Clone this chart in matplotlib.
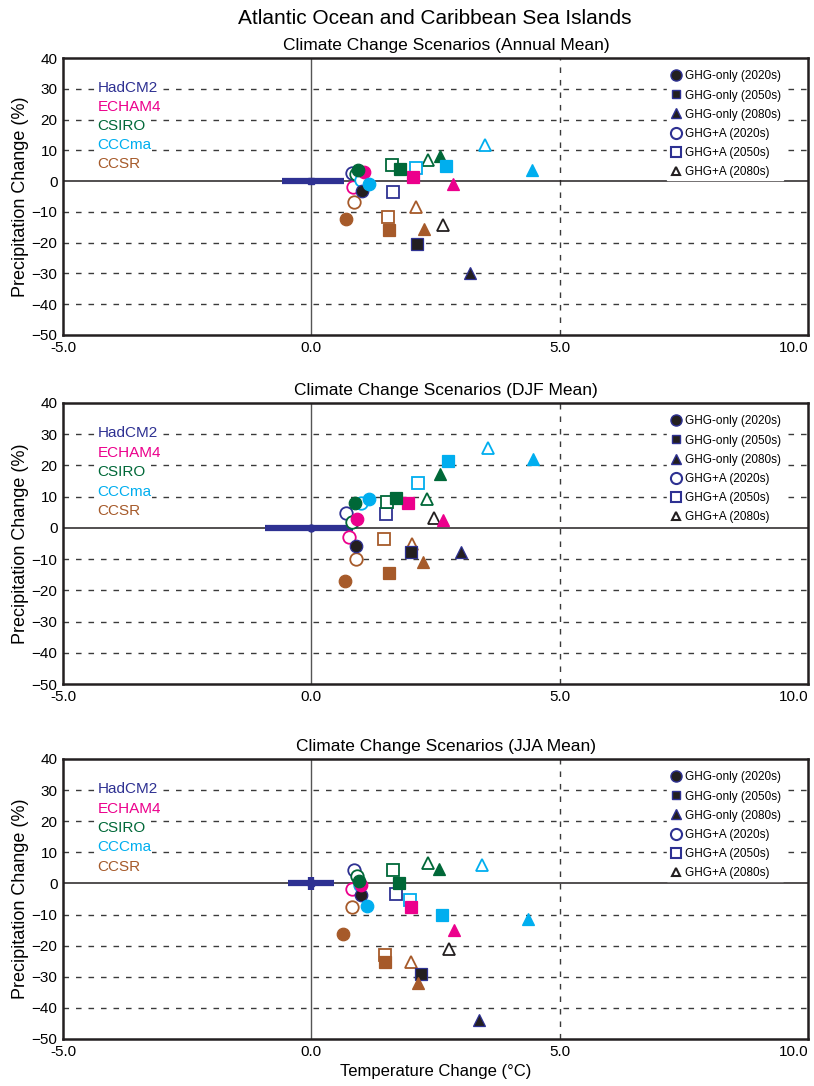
import matplotlib

matplotlib.use("Agg")
import matplotlib.pyplot as plt
import numpy as np
from matplotlib.lines import Line2D

plt.rcParams["font.family"] = ["Liberation Sans", "DejaVu Sans"]

MODELS = ["HadCM2", "ECHAM4", "CSIRO", "CCCma", "CCSR"]
SCENARIOS = ["GHG-only (2020s)", "GHG-only (2050s)", "GHG-only (2080s)",
             "GHG+A (2020s)", "GHG+A (2050s)", "GHG+A (2080s)"]
nan = np.nan

# order of each list: GHG 2020s, 2050s, 2080s, GHG+A 2020s, 2050s, 2080s
ann_temp = {
    "HadCM2": [1.02, 2.12, 3.20, 0.81, 1.64, 2.66],
    "ECHAM4": [1.06, 2.05, 2.86, 0.83, nan, nan],
    "CSIRO": [0.93, 1.78, 2.59, 0.89, 1.63, 2.34],
    "CCCma": [1.17, 2.71, 4.44, 1.00, 2.11, 3.50],
    "CCSR": [0.69, 1.57, 2.26, 0.86, 1.55, 2.10],
}
ann_precip = {
    "HadCM2": [-3.1, -20.5, -30.0, 2.5, -3.6, -14.1],
    "ECHAM4": [2.8, 1.4, -1.0, -1.8, nan, nan],
    "CSIRO": [3.6, 3.9, 8.1, 2.3, 5.1, 6.8],
    "CCCma": [-1.1, 4.8, 3.6, 0.3, 4.4, 11.7],
    "CCSR": [-12.2, -16.0, -15.6, -6.7, -11.6, -8.5],
}
djf_temp = {
    "HadCM2": [0.90, 2.00, 3.02, 0.70, 1.50, 2.47],
    "ECHAM4": [0.91, 1.95, 2.65, 0.75, nan, nan],
    "CSIRO": [0.87, 1.70, 2.60, 0.82, 1.53, 2.33],
    "CCCma": [1.16, 2.75, 4.47, 1.01, 2.15, 3.55],
    "CCSR": [0.68, 1.56, 2.25, 0.89, 1.47, 2.03],
}
djf_precip = {
    "HadCM2": [-5.7, -7.7, -7.7, 4.7, 4.6, 3.3],
    "ECHAM4": [3.0, 8.0, 2.6, -2.9, nan, nan],
    "CSIRO": [8.1, 9.6, 17.1, 1.8, 8.4, 9.2],
    "CCCma": [9.4, 21.3, 22.1, 8.0, 14.3, 25.6],
    "CCSR": [-16.9, -14.6, -11.0, -9.9, -3.4, -5.1],
}
jja_temp = {
    "HadCM2": [1.01, 2.20, 3.38, 0.85, 1.71, 2.78],
    "ECHAM4": [1.01, 2.00, 2.88, 0.82, nan, nan],
    "CSIRO": [0.96, 1.77, 2.57, 0.91, 1.64, 2.35],
    "CCCma": [1.13, 2.63, 4.37, 0.97, 1.99, 3.43],
    "CCSR": [0.63, 1.48, 2.15, 0.82, 1.49, 2.01],
}
jja_precip = {
    "HadCM2": [-3.7, -29.2, -43.9, 4.4, -3.3, -21.0],
    "ECHAM4": [-0.6, -7.6, -15.1, -1.7, nan, nan],
    "CSIRO": [0.9, 0.0, 4.8, 2.5, 4.3, 6.7],
    "CCCma": [-7.1, -10.2, -11.5, -0.4, -5.4, 5.9],
    "CCSR": [-16.2, -25.1, -31.9, -7.6, -23.0, -25.3],
}
# observed natural variability bar (temperature range, precipitation half-range)
obs_temp_err = {"ann": (0.6, 0.66), "djf": (0.93, 0.83), "jja": (0.47, 0.45)}
obs_precip_err = {"ann": 0.0, "djf": 0.0, "jja": 2.2}

COLORS = {"HadCM2": "#2e3192", "ECHAM4": "#ec008c", "CSIRO": "#006838",
          "CCCma": "#00aeef", "CCSR": "#a65a2a"}
MARKERS = ["o", "s", "^", "o", "s", "^"]
SIZES = [9, 8, 9, 9, 8, 8]
GRID = "#3a3a3a"

fig = plt.figure(figsize=(8.14, 10.86), dpi=100)
W, H = 814, 1086
panels = [
    ("ann", "Climate Change Scenarios (Annual Mean)", ann_temp, ann_precip, (58, 335)),
    ("djf", "Climate Change Scenarios (DJF Mean)", djf_temp, djf_precip, (403, 684)),
    ("jja", "Climate Change Scenarios (JJA Mean)", jja_temp, jja_precip, (759, 1039)),
]

fig.text(435 / W, 1 - 18 / H, "Atlantic Ocean and Caribbean Sea Islands",
         ha="center", va="center", fontsize=15)

for i, (key, title, temp, precip, (top, bot)) in enumerate(panels):
    ax = fig.add_axes([63 / W, 1 - bot / H, (808 - 63) / W, (bot - top) / H])
    ax.set_xlim(-5, 10)
    ax.set_ylim(-50, 40)
    ax.set_xticks([-5, 0, 5, 10])
    ax.set_xticklabels(["-5.0", "0.0", "5.0", "10.0"])
    ax.get_xticklabels()[-1].set_ha("right")
    ax.get_xticklabels()[-1].set_x(10.12)
    ax.set_yticks(range(-50, 41, 10))
    ax.tick_params(length=0, labelsize=11, pad=4)
    for s in ax.spines.values():
        s.set_linewidth(1.8)
        s.set_color("#231f20")
    for yv in range(-40, 40, 10):
        if yv == 0:
            continue
        ax.axhline(yv, color=GRID, lw=1.0, ls=(0, (4, 5)), zorder=1)
    ax.axvline(5, color=GRID, lw=1.0, ls=(0, (4, 5)), zorder=1)
    ax.axhline(0, color="#231f20", lw=1.1, zorder=1)
    ax.axvline(0, color="#555555", lw=1.0, zorder=1)

    # observed variability
    lo, hi = obs_temp_err[key]
    ax.errorbar([0], [0], xerr=[[lo], [hi]], yerr=obs_precip_err[key] or None,
                fmt="s" if key != "djf" else "o", ms=5, color="#2e3192",
                elinewidth=4.5, capsize=0, zorder=3)

    for m in MODELS:
        c = COLORS[m]
        for j in (3, 4, 5, 0, 1, 2):
            x, y = temp[m][j], precip[m][j]
            if np.isnan(x):
                continue
            if j < 3:
                face = "#231f20" if m == "HadCM2" else c
                edge = c
                mew = 0.9
            else:
                face = "white"
                edge = "#231f20" if (m == "HadCM2" and j == 5) else c
                mew = 1.3
            ax.plot(x, y, marker=MARKERS[j], ms=SIZES[j], mfc=face, mec=edge,
                    mew=mew, ls="none", zorder=4 if j >= 3 else 5)

    for k, m in enumerate(MODELS):
        ax.text(0.046, 0.892 - k * 0.069, m, color=COLORS[m], fontsize=11,
                transform=ax.transAxes, ha="left", va="center", zorder=6,
                bbox=dict(facecolor="white", edgecolor="none", pad=0.5))

    handles = []
    for j, lab in enumerate(SCENARIOS):
        if j < 3:
            h = Line2D([], [], marker=MARKERS[j], ls="none", ms=[8, 6, 7][j],
                       mfc="#231f20", mec="#2e3192", mew=1.0, label=lab)
        else:
            h = Line2D([], [], marker=MARKERS[j], ls="none", ms=[8, 7, 6][j - 3],
                       mfc="white", mec="#2e3192" if j < 5 else "#231f20",
                       mew=1.5, label=lab)
        handles.append(h)
    leg = ax.legend(handles=handles, loc="upper right", bbox_to_anchor=(0.975, 0.985),
                    fontsize=8.5, frameon=True, framealpha=1, edgecolor="white",
                    facecolor="white", handlelength=1.0, handletextpad=0.3,
                    labelspacing=0.6, borderpad=0.2, fancybox=False)
    leg.set_zorder(6)

    ax.set_ylabel("Precipitation Change (%)", fontsize=13, labelpad=2)
    ax.set_title(title, fontsize=12.5, pad=6, x=0.514)
    if i == 2:
        ax.set_xlabel("Temperature Change (\u00b0C)", fontsize=12, labelpad=4)

fig.savefig("out.png", dpi=100)
